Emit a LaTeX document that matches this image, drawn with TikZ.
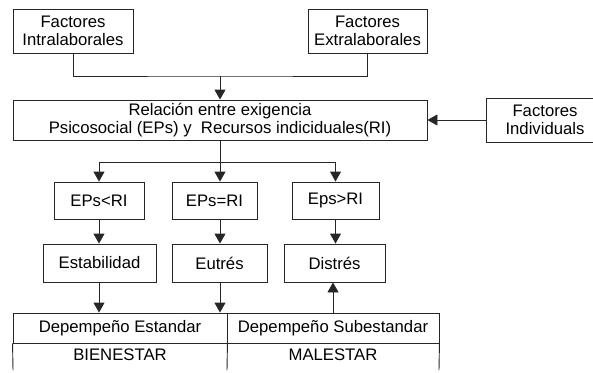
\documentclass[tikz,border=0pt]{standalone}
\usepackage{fontspec}
\setmainfont{Liberation Sans}
\usetikzlibrary{arrows.meta}
\begin{document}
\begin{tikzpicture}[x=1pt,y=-1pt,
  every node/.style={font=\fontsize{16.7}{18.5}\selectfont, inner sep=0pt},
  box/.style={draw=black!85, line width=0.9pt, fill=white, minimum height=#1, align=center},
  box/.default=44pt,
  conn/.style={draw=black!85, line width=0.9pt},
  arr/.style={conn, -{Triangle[length=10pt,width=11pt]}}]
\useasboundingbox (0,0) rectangle (593,372);
\begin{scope}
\clip (0,0) rectangle (593,372);
% top boxes
\node[box, minimum width=120pt] (intra) at (73,31) {Factores\\Intralaborales};
\node[box, minimum width=119pt] (extra) at (367.5,31) {Factores\\Extralaborales};
\node[box=40pt, minimum width=414pt] (main) at (220,120) {Relación entre exigencia\\Psicosocial (EPs) y\ \ Recursos indiciduales(RI)};
\node[box, minimum width=118pt] (indiv) at (545,120) {Factores\\Individuals};
% second row
\node[box=37pt, minimum width=90pt] (lt) at (99,200.5) {EPs<RI};
\node[box=37pt, minimum width=85pt] (eq) at (214.5,200.5) {EPs=RI};
\node[box=37pt, minimum width=87pt] (gt) at (335.5,200.5) {Eps>RI};
% third row
\node[box=38pt, minimum width=113pt] (estab) at (99.5,263) {Estabilidad};
\node[box=38pt, minimum width=95pt] (eutres) at (219.5,263) {Eutrés};
\node[box=38pt, minimum width=101pt] (distres) at (334.5,263) {Distrés};
% table
\node[box=30pt, minimum width=214pt] (std) at (120,328) {Depempeño Estandar};
\node[box=30pt, minimum width=212pt] (sub) at (333,328) {Depempeño Subestandar};
\node (bien) at (120,355) {BIENESTAR};
\node (mal) at (333,355) {MALESTAR};
\coordinate (tl) at (13,370);
\coordinate (tm) at (227,370);
\coordinate (tr) at (439,370);
\draw[conn] (std.south west) -- (tl);
\draw[conn] (std.south east) -- (tm);
\draw[conn] (sub.south east) -- (tr);
% connectors top
\coordinate (j) at (220,76);
\draw[conn] (intra.south) |- (j) -| (extra.south);
\draw[arr] (j) -- (j |- main.north);
\draw[arr] (indiv.west) -- (main.east);
% split
\coordinate (s) at (220,162);
\draw[arr] (main.south -| s) -- (s |- eq.north);
\draw[conn] (lt.north |- s) -- (gt.north |- s);
\draw[arr] (lt.north |- s) -- (lt.north);
\draw[arr] (gt.north |- s) -- (gt.north);
% down arrows
\draw[arr] (lt.south) -- (lt.south |- estab.north);
\draw[arr] (eq.south -| s) -- (s |- eutres.north);
\draw[arr] (gt.south) -- (gt.south |- distres.north);
\draw[arr] (estab.south -| lt.south) -- (lt.south |- std.north);
\draw[arr] (eutres.south -| s) -- (s |- std.north);
\draw[arr] (sub.north -| 333,0) -- (distres.south -| 333,0);
\end{scope}
\end{tikzpicture}
\end{document}
